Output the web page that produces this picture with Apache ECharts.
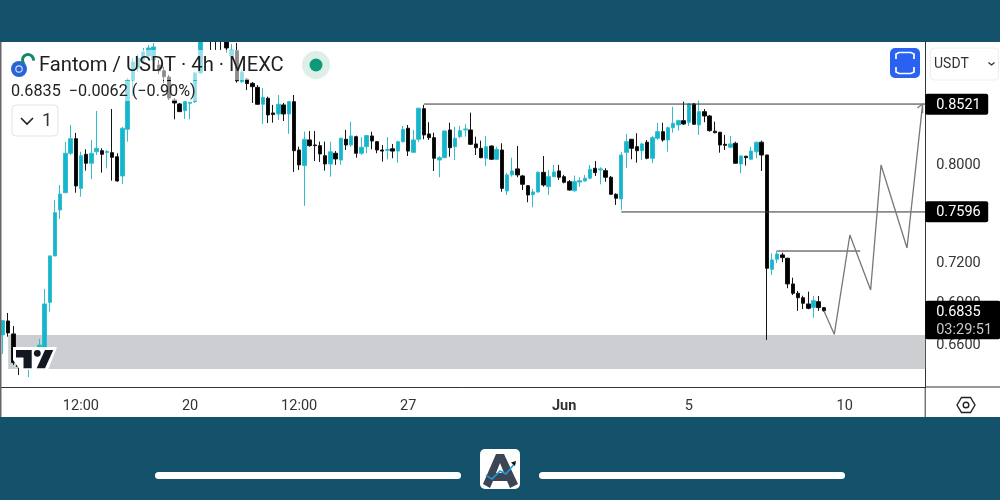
<!DOCTYPE html>
<html><head><meta charset="utf-8">
<style>html,body{margin:0;padding:0;background:#14526b}#c{width:1000px;height:500px}</style>
<script src="https://cdn.jsdelivr.net/npm/echarts@6/dist/echarts.min.js"></script>
</head><body><div id="c"></div>
<script>
const opens=[
.6660,.6760,.6667,.6479,.6450,.6422,.6484,.6539,.6567,.6896,
.7247,.7612,.7754,.8088,.8215,.7790,.8079,.8002,.8101,.8110,
.8094,.8093,.8058,.7894,.8298,.8747,.8860,.8936,.8975,.8936,
.8888,.8834,.8775,.8562,.8526,.8465,.8532,.8547,.8813,.9150,
.9248,.9170,.9189,.9179,.8975,.9026,.8731,.8754,.8716,.8679,
.8523,.8578,.8444,.8435,.8517,.8435,.8547,.8116,.7982,.8204,
.8160,.8154,.8067,.7996,.8088,.8030,.8210,.8160,.8233,.8088,
.8145,.8239,.8189,.8116,.8113,.8127,.8107,.8189,.8307,.8096,
.8210,.8483,.8257,.8224,.8030,.8050,.8292,.8145,.8233,.8292,
.8292,.8169,.8131,.8045,.8151,.8036,.8116,.7768,.7903,.7954,
.7894,.7812,.7737,.7760,.7925,.7804,.7888,.7937,.7888,.7846,
.7770,.7843,.7852,.7875,.7959,.7945,.7939,.7883,.7741,.7702,
.8096,.8210,.8145,.8110,.8184,.8045,.8219,.8277,.8204,.8312,
.8337,.8375,.8361,.8526,.8337,.8456,.8417,.8281,.8272,.8166,
.8140,.8175,.7996,.8062,.8036,.8101,.8184,.8073,.7144,.7221,
.7255,.7229,.7033,.6963,.6930,.6884,.6859,.6901,.6857];
const closes=[
.6762,.6674,.6465,.6438,.6470,.6450,.6518,.6588,.6884,.7247,
.7590,.7743,.8088,.8215,.7810,.8067,.8002,.8088,.8131,.8079,
.8103,.8053,.7852,.8307,.8747,.8917,.8955,.9014,.9052,.9062,
.8834,.8778,.8580,.8535,.8456,.8547,.8541,.8813,.9130,.9228,
.9150,.9130,.9130,.9052,.9033,.8740,.8822,.8714,.8685,.8523,
.8587,.8426,.8430,.8523,.8435,.8547,.8110,.7988,.8210,.8154,
.8154,.8082,.7996,.8101,.8039,.8219,.8160,.8239,.8088,.8140,
.8242,.8195,.8116,.8107,.8122,.8107,.8189,.8298,.8107,.8204,
.8487,.8248,.8224,.8045,.8050,.8283,.8136,.8219,.8286,.8301,
.8166,.8136,.8050,.8145,.8036,.8122,.7790,.7903,.7937,.7903,
.7824,.7735,.7760,.7925,.7818,.7888,.7928,.7883,.7841,.7776,
.7846,.7854,.7875,.7951,.7922,.7954,.7883,.7741,.7708,.8073,
.8189,.8131,.8110,.8169,.8045,.8224,.8277,.8204,.8312,.8352,
.8375,.8345,.8526,.8343,.8456,.8417,.8286,.8268,.8160,.8157,
.8169,.8002,.8064,.8050,.8107,.8184,.8073,.7152,.7216,.7262,
.7234,.7033,.6963,.6930,.6889,.6852,.6908,.6857,.6835];
const highs=[
.6767,.6818,.6724,.6498,.6484,.6470,.6553,.6631,.6996,.7250,
.7694,.7818,.8189,.8337,.8266,.8101,.8122,.8204,.8462,.8131,
.8116,.8480,.8088,.8319,.8766,.8955,.8994,.9052,.9082,.9101,
.8936,.8872,.8794,.8580,.8535,.8553,.8544,.8822,.9170,.9268,
.9288,.9228,.9248,.9228,.9091,.9101,.8841,.8766,.8728,.8700,
.8672,.8593,.8517,.8608,.8535,.8553,.8608,.8145,.8277,.8283,
.8283,.8189,.8189,.8189,.8107,.8224,.8292,.8366,.8242,.8228,
.8248,.8277,.8195,.8160,.8228,.8169,.8198,.8328,.8336,.8292,
.8490,.8517,.8361,.8268,.8064,.8286,.8357,.8322,.8328,.8343,
.8447,.8233,.8198,.8239,.8156,.8145,.8175,.7919,.8050,.8151,
.7903,.7818,.7784,.7932,.8064,.7945,.7988,.7988,.7903,.7860,
.7897,.7883,.7903,.7988,.8021,.7968,.7959,.7894,.7749,.8097,
.8257,.8213,.8263,.8180,.8204,.8239,.8357,.8357,.8322,.8500,
.8381,.8547,.8530,.8535,.8556,.8480,.8426,.8366,.8275,.8248,
.8239,.8189,.8073,.8067,.8145,.8189,.8198,.8075,.7267,.7288,
.7272,.7232,.7080,.6980,.6945,.6975,.6943,.6943,.6862];
const lows=[
.6525,.6647,.6450,.6380,.6415,.6367,.6450,.6511,.6553,.6828,
.7245,.7539,.7751,.8073,.7754,.7721,.7939,.7866,.8073,.7922,
.7959,.7854,.7846,.7826,.8189,.8599,.8822,.8898,.8936,.8872,
.8803,.8719,.8562,.8387,.8453,.8390,.8387,.8535,.8803,.9120,
.9033,.9033,.9033,.9007,.8965,.8722,.8719,.8654,.8535,.8517,
.8345,.8354,.8357,.8381,.8372,.8257,.7928,.7945,.7645,.8145,
.8021,.8013,.7939,.7888,.7988,.7988,.8116,.8145,.8050,.8073,
.8088,.8122,.8088,.8016,.8036,.8045,.8007,.8180,.8064,.8096,
.8189,.8210,.8204,.7936,.7883,.8045,.8058,.8030,.8219,.8233,
.8160,.8073,.8045,.7979,.8030,.8030,.7762,.7735,.7888,.7883,
.7776,.7675,.7634,.7755,.7804,.7735,.7883,.7860,.7832,.7770,
.7762,.7804,.7846,.7866,.7894,.7824,.7846,.7735,.7653,.7612,
.7962,.8036,.8007,.8030,.8036,.8002,.8204,.8189,.8101,.8268,
.8286,.8337,.8328,.8337,.8248,.8361,.8277,.8263,.8093,.8116,
.8131,.8000,.7917,.7982,.8034,.8045,.7936,.6624,.7101,.7191,
.7198,.7001,.6950,.6833,.6847,.6845,.6784,.6833,.6826];

const categoryCount=178;
const timeLabelIndex=[15,36,57,78,108,132,162];
const timeLabelText=['12:00','20','12:00','27','Jun','5','10'];
const yTicks=[0.66,0.69,0.72,0.80];
const priceTagValues=[0.8521,0.7596,0.6835];
const priceTagText=['0.8521','0.7596','0.6835'];
const countdownText='03:29:51';
const zoneBand=[1,0.6660,0.6422];
const levelStart=[[81,0.8525],[119,0.7596]];
const shortLevel=[[149,0.7285],[165,0.7285]];
const zigzag=[[158,0.6835],[160,0.6664],[163,0.7411],[167,0.6988],[169,0.7987],[174,0.7309],[177,0.8525]];
const arrowBarbs=[[175.5,0.8489],[177,0.8525],[176.8,0.8444]];
const titleText='Fantom / USDT · 4h · MEXC';
const legendText='0.6835  −0.0062 (−0.90%)';

const F='Roboto, sans-serif';
const bull='#12b6cf', bear='#000000', band='#14526b';
const cats=Array.from({length:categoryCount},(_,i)=>{const k=timeLabelIndex.indexOf(i);return k>=0?timeLabelText[k]:'';});
const candles=opens.map((o,i)=>[o,closes[i],lows[i],highs[i]]);

const chart=echarts.init(document.getElementById('c'),null,{renderer:'canvas'});
chart.setOption({
 animation:false,backgroundColor:'#ffffff',
 grid:{left:-2.4,top:42,width:927.6,height:345,containLabel:false},
 xAxis:{type:'category',data:cats,boundaryGap:true,
  axisLine:{lineStyle:{color:'#333',width:1}},axisTick:{show:false},splitLine:{show:false},
  axisLabel:{interval:0,margin:12,fontFamily:F,fontSize:14.5,color:'#333',hideOverlap:false,
   formatter:v=>v==='Jun'?'{b|Jun}':v,rich:{b:{fontFamily:F,fontSize:14.5,fontWeight:'bold',color:'#333'}}}},
 yAxis:{type:'log',position:'right',min:0.6299,max:0.9110,
  axisLine:{show:true,onZero:false,lineStyle:{color:'#333',width:1}},axisTick:{show:false},splitLine:{show:false},minorTick:{show:false},minorSplitLine:{show:false},
  axisLabel:{show:false}},
 series:[
  {type:'custom',name:'Zone',z:1,silent:true,data:[zoneBand],encode:{x:0,y:1},
   renderItem:(p,api)=>{const a=api.coord([api.value(0),api.value(1)]),b=api.coord([api.value(0),api.value(2)]);const r=p.coordSys.x+p.coordSys.width;
    return {type:'rect',shape:{x:a[0],y:a[1],width:r-a[0],height:b[1]-a[1]},style:{fill:'#cdced1'}};}},
  {type:'candlestick',name:'FTMUSDT',z:3,data:candles,barWidth:3.9,
   itemStyle:{color:bull,color0:bear,borderColor:'#35bccd',borderColor0:'#151515',borderWidth:1}},
  {type:'custom',name:'Levels',z:4,silent:true,data:levelStart,encode:{x:0,y:1},
   renderItem:(p,api)=>{const a=api.coord([api.value(0),api.value(1)]);const r=p.coordSys.x+p.coordSys.width;
    return {type:'line',shape:{x1:a[0],y1:a[1],x2:r,y2:a[1]},style:{stroke:'#333',lineWidth:1}};}},
  {type:'line',name:'Short level',z:4,silent:true,data:shortLevel,symbol:'none',lineStyle:{color:'#333',width:1}},
  {type:'line',name:'Projection',z:4,silent:true,data:zigzag,symbol:'none',lineStyle:{color:'#777',width:1.3}},
  {type:'line',name:'Arrow',z:4,silent:true,data:arrowBarbs,symbol:'none',lineStyle:{color:'#777',width:1.2}},
  {type:'custom',name:'Axis ticks',z:5,silent:true,clip:false,data:yTicks.map(v=>[0,v]),encode:{x:0,y:1},
   renderItem:(p,api)=>{const y=api.coord([0,api.value(1)])[1];const r=p.coordSys.x+p.coordSys.width;
    return {type:'text',style:{x:r+11,y:y+1.6,text:api.value(1).toFixed(4),fill:'#333',font:'14.5px '+F,align:'left',verticalAlign:'middle'}};}},
  {type:'custom',name:'Price tags',z:6,silent:true,clip:false,data:priceTagValues.map(v=>[0,v]),encode:{x:0,y:1},
   renderItem:(p,api)=>{const i=p.dataIndex;const y=api.coord([0,api.value(1)])[1];const r=p.coordSys.x+p.coordSys.width;
    const last=i===2;
    const ch=[{type:'rect',shape:{x:r,y:last?y-10:y-10.8,width:last?75:63,height:last?38.5:21,r:2},style:{fill:'#000'}},
     {type:'text',style:{x:r+11,y:last?y+2.2:y+0.5,text:priceTagText[i],fill:'#fff',font:'14.5px '+F,align:'left',verticalAlign:'middle'}}];
    if(last)ch.push({type:'text',style:{x:r+11,y:y+20,text:countdownText,fill:'#c8c8c8',font:'14.5px '+F,align:'left',verticalAlign:'middle'}});
    return {type:'group',children:ch};}}
 ],
 graphic:[
  {type:'rect',z:200,shape:{x:0,y:0,width:1000,height:42},style:{fill:band}},
  {type:'rect',z:200,shape:{x:0,y:417,width:1000,height:83},style:{fill:band}},
  {type:'rect',z:200,shape:{x:0,y:42,width:1.5,height:375},style:{fill:'#666'}},
  {type:'line',z:90,shape:{x1:925.2,y1:387,x2:1000,y2:387},style:{stroke:'#333',lineWidth:1}},
  {type:'line',z:90,shape:{x1:925.2,y1:387,x2:925.2,y2:417},style:{stroke:'#333',lineWidth:1}},
  {type:'rect',z:100,shape:{x:10,y:50,width:278,height:30},style:{fill:'rgba(255,255,255,0.55)'}},
  {type:'rect',z:100,shape:{x:10,y:81,width:188,height:20},style:{fill:'rgba(255,255,255,0.55)'}},
  {type:'text',z:110,style:{x:39,y:66,text:titleText,fill:'#1f1f1f',font:'20.2px '+F,verticalAlign:'middle'}},
  {type:'text',z:110,style:{x:11,y:92,text:legendText,fill:'#222',font:'16.2px '+F,verticalAlign:'middle'}},
  {type:'circle',z:110,shape:{cx:19,cy:69,r:8},style:{fill:'#2b62d9'}},
  {type:'circle',z:111,shape:{cx:19,cy:69,r:3.2},style:{stroke:'#cfe0ff',lineWidth:1.2,fill:'none'}},
  {type:'arc',z:110,shape:{cx:28,cy:60,r:5.5,startAngle:2.4,endAngle:6.4},style:{stroke:'#12896f',lineWidth:3,fill:'none'}},
  {type:'rect',z:110,shape:{x:12,y:105,width:46,height:31,r:4},style:{fill:'#fff',stroke:'#e3e3e3',lineWidth:1}},
  {type:'polyline',z:111,shape:{points:[[21,118],[27,124],[33,118]]},style:{stroke:'#222',lineWidth:1.6,fill:'none'}},
  {type:'text',z:111,style:{x:42,y:121,text:'1',fill:'#333',font:'18px '+F,verticalAlign:'middle'}},
  {type:'circle',z:110,shape:{cx:316,cy:65,r:14},style:{fill:'#dcefe9'}},
  {type:'circle',z:111,shape:{cx:316,cy:65,r:6.5},style:{fill:'#0e9a78'}},
  {type:'rect',z:110,shape:{x:890,y:48,width:30,height:30,r:5},style:{fill:'#2962f0'}},
  {type:'polyline',z:111,shape:{points:[[896,59],[896,54],[899,52.5],[911,52.5],[914,54],[914,59]]},style:{stroke:'#fff',lineWidth:1.7,fill:'none'}},
  {type:'polyline',z:111,shape:{points:[[896,67],[896,72],[899,73.5],[911,73.5],[914,72],[914,67]]},style:{stroke:'#fff',lineWidth:1.7,fill:'none'}},
  {type:'rect',z:110,shape:{x:930.5,y:48,width:68,height:32,r:4},style:{fill:'#fff',stroke:'#eeeeee',lineWidth:1}},
  {type:'text',z:111,style:{x:934,y:64,text:'USDT',fill:'#333',font:'14px '+F,verticalAlign:'middle'}},
  {type:'polyline',z:111,shape:{points:[[988.5,62.5],[991.5,65],[994.5,62.5]]},style:{stroke:'#333',lineWidth:1.3,fill:'none'}},
  {type:'polygon',z:110,shape:{points:[[957,405],[961.5,397.5],[970.5,397.5],[975,405],[970.5,412.5],[961.5,412.5]]},style:{fill:'#fff',stroke:'#222',lineWidth:1.4}},
  {type:'circle',z:111,shape:{cx:966,cy:405,r:2.8},style:{fill:'#fff',stroke:'#222',lineWidth:1.4}},
  {type:'polygon',z:120,shape:{points:[[13,347],[57,347],[48,370],[20,370],[13,360]]},style:{fill:'#fff'}},
  {type:'polygon',z:121,shape:{points:[[16,350],[31.7,350],[31.7,368.3],[23.5,368.3],[23.5,357.5],[16,357.5]]},style:{fill:'#131722'}},
  {type:'circle',z:121,shape:{cx:37.3,cy:353.3,r:3.4},style:{fill:'#131722'}},
  {type:'polygon',z:121,shape:{points:[[45,350],[53.3,350],[45,368.3],[36.7,368.3]]},style:{fill:'#131722'}},
  {type:'rect',z:210,shape:{x:155,y:472,width:306,height:7,r:3.5},style:{fill:'#fff'}},
  {type:'rect',z:210,shape:{x:539,y:472,width:306,height:7,r:3.5},style:{fill:'#fff'}},
  {type:'rect',z:210,shape:{x:480,y:449,width:40,height:40,r:5},style:{fill:'#fff'}},
  {type:'polygon',z:211,shape:{points:[[496,454],[504,454],[518,484],[510,488],[507,481],[493,481],[490,488],[483,484]]},style:{fill:'#3a4654'}},
  {type:'polygon',z:212,shape:{points:[[500,463],[504,473],[496,473]]},style:{fill:'#fff'}},
  {type:'polyline',z:212,shape:{points:[[486,475],[492,479],[500,471],[506,474],[515,463]]},style:{stroke:'#1e9be0',lineWidth:1.5,fill:'none'}},
  {type:'polygon',z:212,shape:{points:[[516,461],[511,462.5],[515,466]]},style:{fill:'#111'}}
 ]
});
</script></body></html>
